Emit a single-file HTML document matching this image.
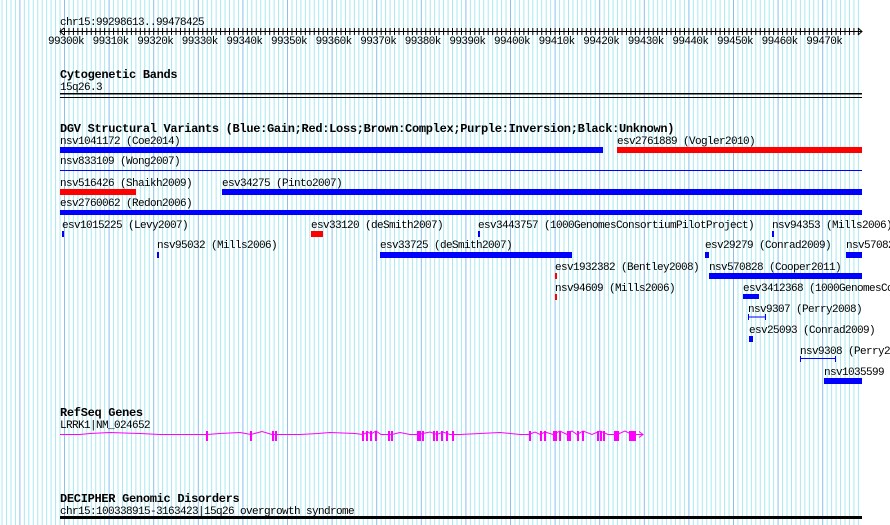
<!DOCTYPE html>
<html><head><meta charset="utf-8"><style>
html,body{margin:0;padding:0;background:#fff;}
svg{display:block}
text{font-family:"Liberation Mono","DejaVu Sans Mono",monospace;font-size:11px;letter-spacing:-0.6px;fill:#000}
.b{font-weight:bold;font-size:12px;letter-spacing:-0.3px}
</style></head><body>
<svg width="890" height="525" viewBox="0 0 890 525" xmlns="http://www.w3.org/2000/svg">
<defs>
<pattern id="g" x="64" y="0" width="44.6" height="525" patternUnits="userSpaceOnUse">
<g stroke="#a8e8f0" stroke-width="1">
<line x1="4.96" y1="0" x2="4.96" y2="525"/><line x1="9.42" y1="0" x2="9.42" y2="525"/>
<line x1="13.88" y1="0" x2="13.88" y2="525"/><line x1="18.34" y1="0" x2="18.34" y2="525"/>
<line x1="22.8" y1="0" x2="22.8" y2="525"/><line x1="27.26" y1="0" x2="27.26" y2="525"/>
<line x1="31.72" y1="0" x2="31.72" y2="525"/><line x1="36.18" y1="0" x2="36.18" y2="525"/>
<line x1="40.64" y1="0" x2="40.64" y2="525"/>
</g>
<line x1="0.5" y1="0" x2="0.5" y2="525" stroke="#88c0ec" stroke-width="1"/>
</pattern>
<pattern id="t" x="64" y="0" width="4.46" height="10" patternUnits="userSpaceOnUse">
<line x1="0.5" y1="0" x2="0.5" y2="10" stroke="#000"/>
</pattern>
</defs>
<rect x="0" y="0" width="890" height="525" fill="#fff"/>
<rect x="0" y="0" width="862" height="525" fill="url(#g)"/>

<text x="60" y="25">chr15:99298613..99478425</text>
<line x1="60" y1="31.5" x2="862" y2="31.5" stroke="#000"/>
<rect x="60" y="28" width="802" height="7" fill="url(#t)"/>
<path d="M64 28 L60 31.5 L64 35 M858 28 L862 31.5 L858 35" stroke="#000" fill="none"/>
<g text-anchor="middle">
<text x="66" y="44">99300k</text><text x="110.6" y="44">99310k</text><text x="155.2" y="44">99320k</text>
<text x="199.8" y="44">99330k</text><text x="244.4" y="44">99340k</text><text x="289" y="44">99350k</text>
<text x="333.6" y="44">99360k</text><text x="378.2" y="44">99370k</text><text x="422.8" y="44">99380k</text>
<text x="467.4" y="44">99390k</text><text x="512" y="44">99400k</text><text x="556.6" y="44">99410k</text>
<text x="601.2" y="44">99420k</text><text x="645.8" y="44">99430k</text><text x="690.4" y="44">99440k</text>
<text x="735" y="44">99450k</text><text x="779.6" y="44">99460k</text><text x="824.2" y="44">99470k</text>
</g>

<text class="b" x="60" y="78">Cytogenetic Bands</text>
<text x="60" y="90">15q26.3</text>
<rect x="60" y="93" width="802" height="1.5" fill="#000"/>
<rect x="60" y="97" width="802" height="1" fill="#000"/>

<text class="b" x="60" y="132">DGV Structural Variants (Blue:Gain;Red:Loss;Brown:Complex;Purple:Inversion;Black:Unknown)</text>
<text x="60" y="144">nsv1041172 (Coe2014)</text>
<rect x="60" y="147" width="543" height="6" fill="#0000ff"/>
<text x="617" y="144">esv2761889 (Vogler2010)</text>
<rect x="617" y="147" width="245" height="6" fill="#ff0000"/>
<text x="60" y="164">nsv833109 (Wong2007)</text>
<rect x="60" y="170" width="802" height="1" fill="#0000ff"/>
<text x="60" y="186">nsv516426 (Shaikh2009)</text>
<rect x="60" y="189" width="76" height="6" fill="#ff0000"/>
<text x="222" y="186">esv34275 (Pinto2007)</text>
<rect x="222" y="189" width="640" height="6" fill="#0000ff"/>
<text x="60" y="206">esv2760062 (Redon2006)</text>
<rect x="60" y="210" width="802" height="5" fill="#0000ff"/>

<text x="62" y="228">esv1015225 (Levy2007)</text>
<rect x="62" y="231" width="2" height="6" fill="#0000ff"/>
<text x="311" y="228">esv33120 (deSmith2007)</text>
<rect x="311" y="231" width="12" height="6" fill="#ff0000"/>
<text x="478" y="228">esv3443757 (1000GenomesConsortiumPilotProject)</text>
<rect x="478" y="231" width="2" height="6" fill="#0000ff"/>
<text x="772" y="228">nsv94353 (Mills2006)</text>
<rect x="772" y="231" width="2" height="6" fill="#0000ff"/>

<text x="157" y="248">nsv95032 (Mills2006)</text>
<rect x="157" y="252" width="2" height="6" fill="#0000ff"/>
<text x="380" y="248">esv33725 (deSmith2007)</text>
<rect x="380" y="252" width="192" height="6" fill="#0000ff"/>
<text x="705" y="248">esv29279 (Conrad2009)</text>
<rect x="705" y="252" width="4" height="6" fill="#0000ff"/>
<text x="846" y="248">nsv57082</text>
<rect x="846" y="252" width="16" height="6" fill="#0000ff"/>

<text x="555" y="270">esv1932382 (Bentley2008)</text>
<rect x="555" y="273" width="2" height="6" fill="#ff0000"/>
<text x="709" y="270">nsv570828 (Cooper2011)</text>
<rect x="709" y="273" width="153" height="6" fill="#0000ff"/>

<text x="555" y="291">nsv94609 (Mills2006)</text>
<rect x="555" y="294" width="2" height="6" fill="#ff0000"/>
<text x="743" y="291">esv3412368 (1000GenomesCo</text>
<rect x="743" y="294" width="16" height="5" fill="#0000ff"/>

<text x="748" y="312">nsv9307 (Perry2008)</text>
<path d="M748.5 314 V320 M748.5 317 H765.5 M765.5 314 V320" stroke="#0000ff" fill="none"/>
<text x="749" y="333">esv25093 (Conrad2009)</text>
<rect x="749" y="336" width="4" height="6" fill="#0000ff"/>
<text x="800" y="354">nsv9308 (Perry2</text>
<path d="M800.5 356 V362 M800.5 358.5 H835.5 M835.5 356 V362" stroke="#0000ff" fill="none"/>
<text x="824" y="375">nsv1035599</text>
<rect x="824" y="378" width="38" height="6" fill="#0000ff"/>

<text class="b" x="60" y="416">RefSeq Genes</text>
<text x="60" y="428">LRRK1|NM_024652</text>
<g fill="none" stroke="#ff00ff" stroke-width="1">
<polyline points="60,434.5 80,434.5 90,433.5 110,432.5 140,433.5 160,434.5 190,434.5 207,434.5 220,433.5 240,432.5 251,434.5 262,431.5 272,434.5 276,434.5 300,434.5 318,433.5 330,432.5 355,433.5 363,434.5 368,432 371,434 376,431 381,434.5 388,434.5 392,434.5 400,432.5 410,434.5 418,434.5 430,432 437,434.5 443,432 450,434.5 460,434.5 480,433.5 500,432.5 520,434.5 529,434.5 535,432 540,434.5 545,432 553,434.5 560,431 567,434.5 572,431 577,434.5 583,431 592,434.5 600,431 608,434.5 617,434.5 625,431 632,434.5 643,434.5"/>
<path d="M639 431.5 L643 434.5 L639 437.5"/>
</g>
<g fill="#ff00ff">
<rect x="206" y="431" width="2" height="10"/><rect x="250" y="431" width="2" height="10"/>
<rect x="272" y="431" width="2" height="10"/><rect x="275" y="431" width="2" height="10"/>
<rect x="362" y="431" width="2" height="10"/><rect x="366" y="431" width="2" height="10"/>
<rect x="370" y="431" width="2" height="10"/><rect x="375" y="431" width="2" height="10"/>
<rect x="388" y="431" width="2" height="10"/><rect x="391" y="431" width="2" height="10"/>
<rect x="417" y="431" width="2" height="10"/><rect x="419" y="431" width="2" height="10"/>
<rect x="422" y="431" width="2" height="10"/><rect x="433" y="431" width="2" height="10"/>
<rect x="436" y="431" width="2" height="10"/><rect x="441" y="431" width="2" height="10"/>
<rect x="446" y="431" width="2" height="10"/><rect x="452" y="431" width="2" height="10"/>
<rect x="529" y="431" width="2" height="10"/><rect x="540" y="431" width="2" height="10"/>
<rect x="544" y="431" width="2" height="10"/><rect x="553" y="431" width="4" height="10"/>
<rect x="559" y="431" width="2" height="10"/><rect x="567" y="431" width="4" height="10"/>
<rect x="577" y="431" width="2" height="10"/><rect x="582" y="431" width="2" height="10"/>
<rect x="597" y="431" width="2" height="10"/><rect x="600" y="431" width="2" height="10"/>
<rect x="603" y="431" width="2" height="10"/><rect x="614" y="431" width="5" height="10"/>
<rect x="629" y="431" width="7" height="10"/>
</g>

<text class="b" x="60" y="502">DECIPHER Genomic Disorders</text>
<text x="60" y="514">chr15:100338915-3163423|15q26 overgrowth syndrome</text>
<rect x="60" y="516" width="802" height="3" fill="#000"/>
</svg>
</body></html>
